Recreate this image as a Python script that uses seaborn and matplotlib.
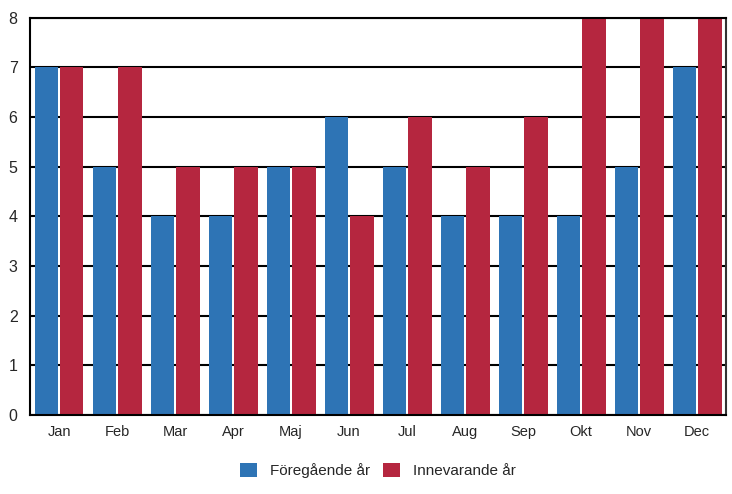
import matplotlib
matplotlib.use('Agg')
import matplotlib.pyplot as plt
import seaborn as sns
import pandas as pd

months = ['Jan', 'Feb', 'Mar', 'Apr', 'Maj', 'Jun', 'Jul', 'Aug', 'Sep', 'Okt', 'Nov', 'Dec']
foregaende = [7, 5, 4, 4, 5, 6, 5, 4, 4, 4, 5, 7]
innevarande = [7, 7, 5, 5, 5, 4, 6, 5, 6, 8, 8, 8]
series = ['Föregående år', 'Innevarande år']
colors = ['#2E74B5', '#B5263F']

df = pd.DataFrame({
    'month': months * 2,
    'value': foregaende + innevarande,
    'serie': [series[0]] * 12 + [series[1]] * 12,
})

sns.set_style('white')
plt.rcParams['font.family'] = ['Liberation Sans', 'DejaVu Sans']

fig = plt.figure(figsize=(7.32, 4.94), dpi=100)
ax = fig.add_axes([0.041, 0.16, 0.951, 0.804])

sns.barplot(data=df, x='month', y='value', hue='serie', palette=colors,
            width=0.87, gap=0.06, saturation=1, linewidth=0, ax=ax, legend=True)

ax.set_ylim(0, 8)
ax.set_yticks(range(0, 9))
ax.set_axisbelow(True)
ax.yaxis.grid(True, color='black', linewidth=1.5)
ax.xaxis.grid(False)
for side in ['left', 'bottom', 'top']:
    ax.spines[side].set_color('black')
    ax.spines[side].set_linewidth(1.5)
ax.spines['right'].set_color('#333333')
ax.spines['right'].set_linewidth(1.5)
ax.tick_params(axis='both', length=0)
ax.tick_params(axis='y', labelsize=11.5, pad=9)
ax.tick_params(axis='x', labelsize=10.5, pad=7)
ax.set_xlabel('')
ax.set_ylabel('')

ax.legend(loc='center', bbox_to_anchor=(0.5, -0.14), ncol=2, frameon=False,
          fontsize=11, handlelength=1.1, handleheight=1.1, handletextpad=0.9,
          columnspacing=0.8)

fig.savefig('out.png', dpi=100)
